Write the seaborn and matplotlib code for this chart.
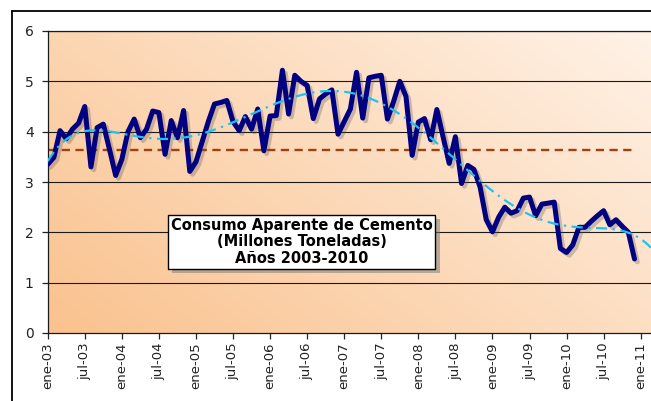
import numpy as np
import pandas as pd
import seaborn as sns
import matplotlib.pyplot as plt
import matplotlib.patheffects as pe
from matplotlib.lines import Line2D

# monthly apparent cement consumption, ene-03 .. dic-10 (millions of tonnes)
consumo = [3.35, 3.49, 4.02, 3.86, 4.05, 4.17, 4.50, 3.30, 4.08, 4.15, 3.65, 3.13,
           3.45, 4.00, 4.25, 3.88, 4.05, 4.41, 4.38, 3.55, 4.22, 3.88, 4.42, 3.21,
           3.40, 3.80, 4.20, 4.55, 4.58, 4.62, 4.20, 4.02, 4.30, 4.05, 4.45, 3.62,
           4.31, 4.32, 5.22, 4.35, 5.12, 5.00, 4.92, 4.26, 4.65, 4.75, 4.83, 3.95,
           4.20, 4.45, 5.18, 4.27, 5.07, 5.10, 5.12, 4.25, 4.60, 5.00, 4.70, 3.53,
           4.19, 4.26, 3.84, 4.44, 3.90, 3.37, 3.90, 2.97, 3.33, 3.25, 2.90, 2.25,
           2.01, 2.30, 2.50, 2.38, 2.43, 2.68, 2.70, 2.33, 2.56, 2.58, 2.60, 1.68,
           1.60, 1.75, 2.10, 2.10, 2.22, 2.33, 2.43, 2.15, 2.25, 2.12, 2.00, 1.47]
promedio = 3.63
tick_labels = ["ene-03", "jul-03", "ene-04", "jul-04", "ene-05", "jul-05", "ene-06",
               "jul-06", "ene-07", "jul-07", "ene-08", "jul-08", "ene-09", "jul-09",
               "ene-10", "jul-10", "ene-11"]
titulo = "Consumo Aparente de Cemento\n(Millones Toneladas)\nAños 2003-2010"

sns.set_style("white")
plt.rcParams['font.family'] = ['DejaVu Sans']

df = pd.DataFrame({'mes': np.arange(len(consumo)), 'consumo': consumo})
df['promedio'] = promedio

# 6th order polynomial trend, extended a little forward like Excel
coef = np.polyfit(df['mes'], df['consumo'], 6)
x_max = (651 - 47.7) / 6.177
trend = pd.DataFrame({'mes': np.linspace(0, x_max, 300)})
trend['valor'] = np.polyval(coef, trend['mes'])

fig = plt.figure(figsize=(6.51, 4.01), dpi=100)
ax = fig.add_axes([47.7 / 651, 68 / 401, 1 - 47.7 / 651, 302 / 401])

# gradient background of the plot area
gx, gy = np.meshgrid(np.linspace(0, 1, 200), np.linspace(0, 1, 200))
t = (gx * 0.6 + gy * 0.4)
c0 = np.array([250, 194, 142]) / 255
c1 = np.array([255, 242, 231]) / 255
img = c0[None, None, :] * (1 - t[..., None]) + c1[None, None, :] * t[..., None]
ax.imshow(img, extent=[0, 1, 0, 1], transform=ax.transAxes, origin='lower',
          aspect='auto', zorder=0)

for v in range(1, 7):
    ax.axhline(v, color='#1a1a1a', lw=0.8, zorder=1)

sns.lineplot(data=df, x='mes', y='promedio', ax=ax, color='#A5400E', lw=1.7,
             zorder=2).lines[-1].set_dashes((3.5, 2.3))
sns.lineplot(data=df, x='mes', y='consumo', ax=ax, color='#000080', lw=3.6, zorder=3,
             path_effects=[pe.SimpleLineShadow(offset=(2, -2), shadow_color='#555555', alpha=0.3),
                           pe.Normal()])
ln = sns.lineplot(data=trend, x='mes', y='valor', ax=ax, color='#1EC3F0', lw=1.6, zorder=4).lines[-1]
ln.set_dashes((5, 2.5, 1, 2.5))

ax.set_xlim(0, x_max)
ax.set_ylim(0, 6)
ax.set_yticks(range(7))
ax.set_xticks(np.arange(0, 97, 6))
ax.set_xticklabels(tick_labels, rotation=90, fontsize=9.5, color='#222222')
ax.tick_params(axis='y', labelsize=10, colors='#222222', length=4, width=0.9, pad=6, left=True)
ax.tick_params(axis='x', length=4, width=0.9, pad=3, bottom=True)
ax.set_xlabel('')
ax.set_ylabel('')
for s in ['left', 'bottom', 'top']:
    ax.spines[s].set_color('#1a1a1a')
    ax.spines[s].set_linewidth(0.9)
ax.spines['right'].set_visible(False)

txt = ax.text(41.1, 1.81, titulo, ha='center', va='center', fontsize=10.5,
              fontweight='bold', color='black', linespacing=1.1, zorder=6,
              bbox=dict(boxstyle='square,pad=0.2', fc='white', ec='black', lw=1.0))
txt.get_bbox_patch().set_path_effects([pe.withSimplePatchShadow(offset=(3, -3), shadow_rgbFace='#777777', alpha=0.5)])

# outer chart border
fig.add_artist(Line2D([12 / 651, 1], [1 - 11 / 401] * 2, color='black', lw=1.3, transform=fig.transFigure))
fig.add_artist(Line2D([12 / 651] * 2, [0, 1 - 11 / 401], color='black', lw=1.3, transform=fig.transFigure))

fig.savefig('out.png', dpi=100)
